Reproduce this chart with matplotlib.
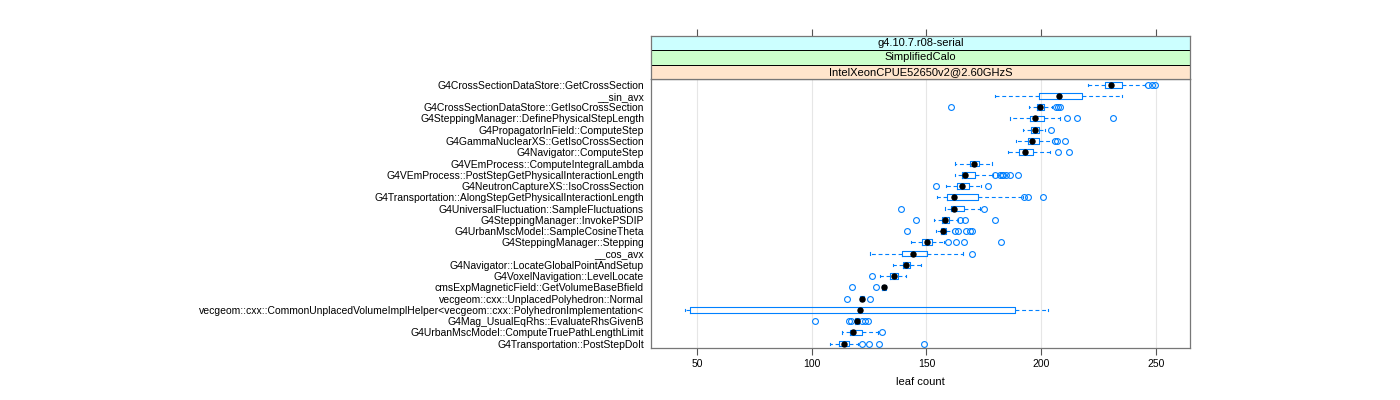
import numpy as np
import matplotlib
matplotlib.use("Agg")
import matplotlib.pyplot as plt
from matplotlib.patches import Rectangle

# functions, top to bottom
functions = [
    "G4CrossSectionDataStore::GetCrossSection",
    "__sin_avx",
    "G4CrossSectionDataStore::GetIsoCrossSection",
    "G4SteppingManager::DefinePhysicalStepLength",
    "G4PropagatorInField::ComputeStep",
    "G4GammaNuclearXS::GetIsoCrossSection",
    "G4Navigator::ComputeStep",
    "G4VEmProcess::ComputeIntegralLambda",
    "G4VEmProcess::PostStepGetPhysicalInteractionLength",
    "G4NeutronCaptureXS::IsoCrossSection",
    "G4Transportation::AlongStepGetPhysicalInteractionLength",
    "G4UniversalFluctuation::SampleFluctuations",
    "G4SteppingManager::InvokePSDIP",
    "G4UrbanMscModel::SampleCosineTheta",
    "G4SteppingManager::Stepping",
    "__cos_avx",
    "G4Navigator::LocateGlobalPointAndSetup",
    "G4VoxelNavigation::LevelLocate",
    "cmsExpMagneticField::GetVolumeBaseBfield",
    "vecgeom::cxx::UnplacedPolyhedron::Normal",
    "vecgeom::cxx::CommonUnplacedVolumeImplHelper<vecgeom::cxx::PolyhedronImplementation<",
    "G4Mag_UsualEqRhs::EvaluateRhsGivenB",
    "G4UrbanMscModel::ComputeTruePathLengthLimit",
    "G4Transportation::PostStepDoIt",
]

whis_lo = [220.2, 180.0, 194.6, 186.3, 192.0, 189.0, 185.7, 162.5, 162.5, 158.3, 154.6, 157.9,
           153.4, 154.1, 143.3, 125.4, 135.6, 129.6, 130.6, 120.9, 45.0, 118.7, 113.0, 107.8]
q1 = [227.7, 199.2, 198.3, 195.2, 195.5, 194.3, 190.3, 169.0, 165.5, 163.3, 158.8, 160.7,
      156.8, 156.2, 148.1, 139.3, 139.6, 133.9, 130.6, 120.9, 46.8, 118.7, 116.9, 111.9]
med = [230.5, 207.7, 199.5, 197.4, 197.3, 196.1, 193.0, 170.6, 167.0, 165.4, 162.2, 161.9,
       158.0, 157.3, 150.2, 144.3, 141.1, 135.9, 131.5, 122.0, 121.1, 119.6, 118.1, 114.0]
q3 = [235.0, 217.6, 201.1, 201.3, 199.0, 199.0, 196.2, 172.8, 171.2, 168.5, 172.3, 166.3,
      159.8, 158.3, 152.5, 150.2, 142.7, 137.7, 132.3, 123.0, 188.7, 120.6, 121.8, 116.1]
whis_hi = [245.2, 235.1, 204.7, 208.0, 201.7, 204.5, 204.0, 178.4, 179.0, 173.7, 192.0, 173.3,
           163.6, 161.3, 157.6, 165.8, 147.5, 141.1, 132.3, 123.0, 202.8, 120.6, 129.1, 120.1]
outliers = [
    [246.4, 248.2, 249.7],
    [],
    [160.7, 206.5, 207.4, 208.0],
    [211.3, 215.6, 231.2],
    [204.1],
    [206.2, 207.0, 210.4],
    [207.1, 212.1],
    [],
    [179.7, 181.9, 182.7, 183.4, 184.5, 186.5, 189.8],
    [154.3, 176.9],
    [192.5, 194.3, 200.7],
    [138.7, 175.0],
    [145.6, 164.8, 166.6, 180.0],
    [141.4, 162.4, 163.6, 167.3, 168.8, 169.8],
    [159.4, 162.7, 166.3, 182.4],
    [170.0],
    [],
    [126.4],
    [117.4, 128.0],
    [115.2, 125.5],
    [],
    [101.4, 116.1, 117.1, 121.7, 123.1, 124.7],
    [130.8],
    [121.8, 124.8, 129.4, 149.0],
]

strips = ["g4.10.7.r08-serial", "SimplifiedCalo", "IntelXeonCPUE52650v2@2.60GHzS"]
strip_colors = ["#ccffff", "#ccffcc", "#ffe5cc"]
xticks = [50, 100, 150, 200, 250]

plt.rcParams['font.family'] = ['Liberation Sans', 'DejaVu Sans']
blue = "#0080ff"
n = len(functions)

fig = plt.figure(figsize=(14, 4), dpi=100)
W, H = 1400.0, 400.0
ax = fig.add_axes([651 / W, 1 - 347.8 / H, 539 / W, (347.8 - 79.3) / H])
axs = fig.add_axes([651 / W, 1 - 79.3 / H, 539 / W, (79.3 - 35.5) / H], sharex=ax)

stats = []
for i in range(n):
    stats.append(dict(whislo=whis_lo[i], q1=q1[i], med=med[i], q3=q3[i], whishi=whis_hi[i],
                      mean=med[i], fliers=outliers[i]))
positions = np.arange(n, 0, -1)

ax.bxp(stats, positions=positions, vert=False, widths=0.5, showmeans=True, capwidths=0.2,
       boxprops=dict(color=blue, lw=0.8),
       whiskerprops=dict(color=blue, lw=0.8, ls=(0, (3.5, 2.5))),
       capprops=dict(color=blue, lw=0.8),
       medianprops=dict(lw=0),
       meanprops=dict(marker='o', markerfacecolor='black', markeredgecolor='black', markersize=3.6),
       flierprops=dict(marker='o', markerfacecolor='none', markeredgecolor=blue, markersize=4.2,
                       markeredgewidth=0.8))

ax.set_xlim(30.0, 264.8)
ax.set_ylim(0.63, 24.48)
ax.set_xticks(xticks)
ax.set_xticklabels([str(t) for t in xticks], fontsize=7.5)
ax.set_yticks(positions)
ax.set_yticklabels(functions, fontsize=7.5)
ax.tick_params(axis='y', length=0, pad=5)
ax.tick_params(axis='x', length=5, width=0.8, color='#555555', pad=3)
for t in xticks:
    ax.axvline(t, color='#e6e6e6', lw=0.8, zorder=0)
ax.set_xlabel("leaf count", fontsize=8, labelpad=6)
for s in ax.spines.values():
    s.set_color('#777777')
    s.set_linewidth(0.9)

# strips
axs.set_ylim(0, 3)
axs.set_yticks([])
axs.tick_params(axis='x', bottom=False, labelbottom=False, top=True, labeltop=False,
                length=5, width=0.8, color='#555555')
for k, (label, col) in enumerate(zip(strips, strip_colors)):
    y0 = 2 - k
    axs.add_patch(Rectangle((0, y0 / 3), 1, 1 / 3, transform=axs.transAxes, facecolor=col,
                            edgecolor='black', lw=0.7))
    axs.text(0.5, (y0 + 0.5) / 3, label, transform=axs.transAxes, ha='center', va='center',
             fontsize=8)
for s in axs.spines.values():
    s.set_color('#777777')
    s.set_linewidth(0.9)

fig.savefig("out.png", dpi=100)
